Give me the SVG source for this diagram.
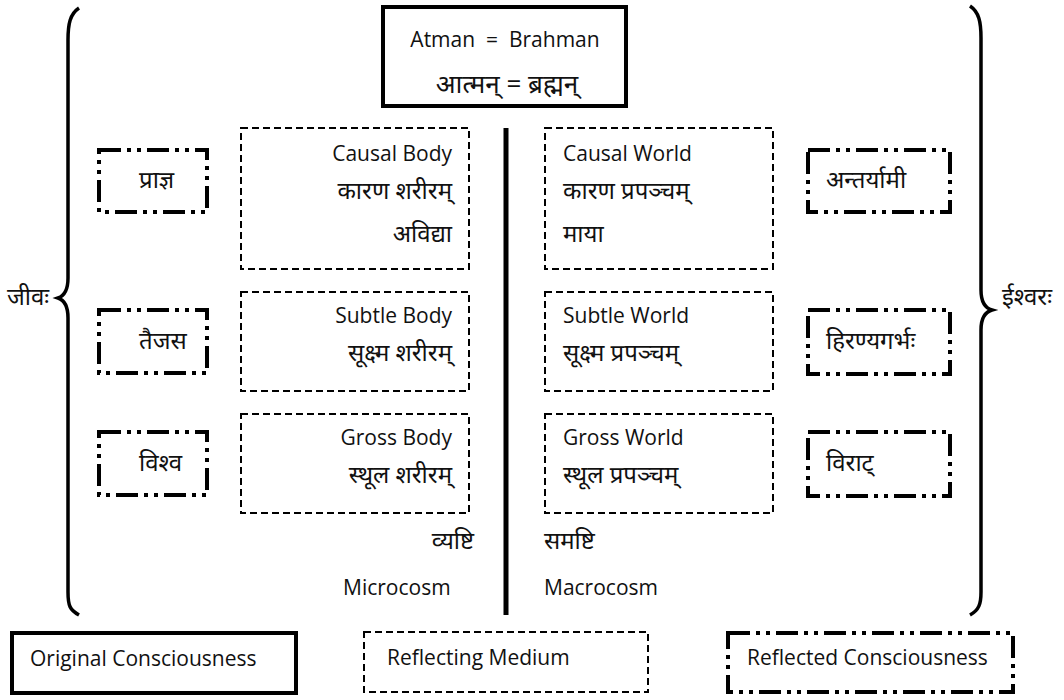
<svg xmlns="http://www.w3.org/2000/svg" width="1064" height="700" viewBox="0 0 1064 700">
<style>
text{font-family:"Open Sans","Noto Sans",sans-serif;font-size:21px;fill:#111}
text.dv{font-size:24px}
text.big{font-size:26px}
.solid{fill:#fff;stroke:#000;stroke-width:4}
.dash{fill:#fff;stroke:#000;stroke-width:2;stroke-dasharray:7 4}
.dd{fill:#fff;stroke:#000;stroke-width:4;stroke-dasharray:22 6 4 6 4 6}
.brace{fill:none;stroke:#000;stroke-width:3.5}
.r{text-anchor:end}
.m{text-anchor:middle}
</style>
<rect width="1064" height="700" fill="#fff"/>
<g id="top">
<rect class="solid" x="383" y="7" width="243" height="99"/>
<text class="m" x="505" y="47" xml:space="preserve">Atman  =  Brahman</text>
<text class="m dv big" x="507" y="93">आत्मन् = ब्रह्मन्</text>
</g>
<g id="connectors">
<line x1="506" y1="128" x2="506" y2="615" stroke="#000" stroke-width="5"/>
<path class="brace" d="M79,8 C70,14 68,24 68,40 L68,278 C68,290 64,296 58,298 C64,300 68,306 68,318 L68,592 C68,606 70,610 79,615"/>
<path class="brace" d="M970,6 C979,12 981,22 981,38 L981,290 C981,302 985,308 992,310 C985,312 981,318 981,330 L981,592 C981,604 979,610 970,615"/>
</g>
<g id="jiva"><text class="dv" x="7" y="305">जीवः</text></g>
<g id="ishvara"><text class="dv" x="1002" y="305">ईश्वरः</text></g>
<g id="prajna"><rect class="dd" x="99" y="150" width="108" height="62"/><text class="dv" x="139" y="188">प्राज्ञ</text></g>
<g id="taijasa"><rect class="dd" x="99" y="310" width="108" height="63"/><text class="dv" x="139" y="349">तैजस</text></g>
<g id="vishva"><rect class="dd" x="99" y="432" width="108" height="63"/><text class="dv" x="139" y="471">विश्व</text></g>
<g id="antaryami"><rect class="dd" x="808" y="150" width="142" height="62"/><text class="dv" x="826" y="188">अन्तर्यामी</text></g>
<g id="hiranyagarbha"><rect class="dd" x="808" y="310" width="142" height="64"/><text class="dv" x="826" y="349">हिरण्यगर्भः</text></g>
<g id="virat"><rect class="dd" x="808" y="432" width="142" height="64"/><text class="dv" x="826" y="471">विराट्</text></g>
<g id="causal-body"><rect class="dash" x="241" y="128" width="228" height="141"/>
<text class="r" x="452" y="161">Causal Body</text><text class="r dv" x="452" y="199">कारण शरीरम्</text><text class="r dv" x="452" y="242">अविद्या</text></g>
<g id="subtle-body"><rect class="dash" x="241" y="292" width="228" height="99"/>
<text class="r" x="452" y="323">Subtle Body</text><text class="r dv" x="452" y="361">सूक्ष्म शरीरम्</text></g>
<g id="gross-body"><rect class="dash" x="241" y="414" width="228" height="99"/>
<text class="r" x="452" y="445">Gross Body</text><text class="r dv" x="452" y="483">स्थूल शरीरम्</text></g>
<g id="causal-world"><rect class="dash" x="545" y="128" width="228" height="141"/>
<text x="563" y="161">Causal World</text><text class="dv" x="563" y="199">कारण प्रपञ्चम्</text><text class="dv" x="563" y="242">माया</text></g>
<g id="subtle-world"><rect class="dash" x="545" y="292" width="228" height="99"/>
<text x="563" y="323">Subtle World</text><text class="dv" x="563" y="361">सूक्ष्म प्रपञ्चम्</text></g>
<g id="gross-world"><rect class="dash" x="545" y="414" width="228" height="99"/>
<text x="563" y="445">Gross World</text><text class="dv" x="563" y="483">स्थूल प्रपञ्चम्</text></g>
<g id="vyashti"><text class="r dv" x="474" y="549">व्यष्टि</text><text x="343" y="595">Microcosm</text></g>
<g id="samashti"><text class="dv" x="544" y="549">समष्टि</text><text x="544" y="595">Macrocosm</text></g>
<g id="legend-original"><rect class="solid" x="12" y="633" width="284" height="60"/><text x="30" y="666">Original Consciousness</text></g>
<g id="legend-medium"><rect class="dash" x="364" y="632" width="284" height="60"/><text x="387" y="665">Reflecting Medium</text></g>
<g id="legend-reflected"><rect class="dd" x="728" y="633" width="285" height="59"/><text x="747" y="665">Reflected Consciousness</text></g>
</svg>
